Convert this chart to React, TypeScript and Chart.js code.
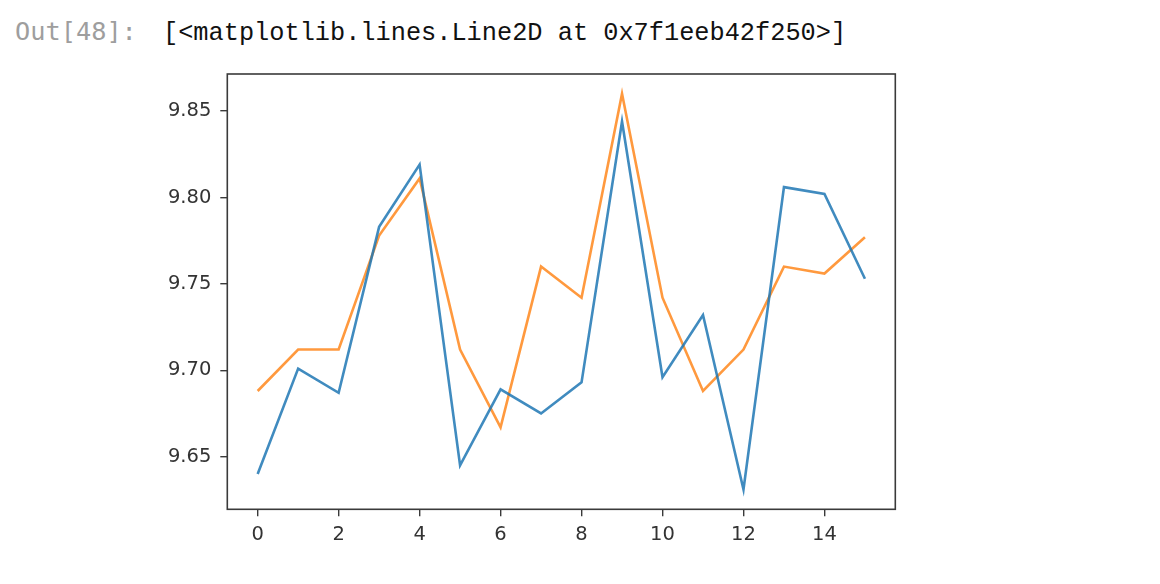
import React, { useEffect, useRef } from "react";
import { Chart, registerables } from "chart.js";

Chart.register(...registerables);

const xValues = [0, 1, 2, 3, 4, 5, 6, 7, 8, 9, 10, 11, 12, 13, 14, 15];
const blueSeries = [9.640, 9.701, 9.687, 9.783, 9.819, 9.645, 9.689, 9.675, 9.693, 9.844, 9.696, 9.732, 9.631, 9.806, 9.802, 9.753];
const orangeSeries = [9.688, 9.712, 9.712, 9.778, 9.811, 9.712, 9.667, 9.760, 9.742, 9.860, 9.742, 9.688, 9.712, 9.760, 9.756, 9.777];
const xTicks = [0, 2, 4, 6, 8, 10, 12, 14];
const yTicks = [9.65, 9.7, 9.75, 9.8, 9.85];

const outPrompt = "Out[48]:";
const outText = "[<matplotlib.lines.Line2D at 0x7f1eeb42f250>]";

function margins(vals: number[]) {
  const lo = Math.min(...vals);
  const hi = Math.max(...vals);
  const m = (hi - lo) * 0.05;
  return [lo - m, hi + m];
}

export default function App() {
  const ref = useRef<HTMLCanvasElement | null>(null);
  useEffect(() => {
    if (!ref.current) return;
    const [xMin, xMax] = margins(xValues);
    const [yMin, yMax] = margins([...blueSeries, ...orangeSeries]);
    const frame = {
      id: "frame",
      afterDatasetsDraw(chart: any) {
        const { ctx, chartArea } = chart;
        ctx.save();
        ctx.strokeStyle = "#3a3a3a";
        ctx.lineWidth = 1.6;
        ctx.strokeRect(chartArea.left, chartArea.top, chartArea.right - chartArea.left, chartArea.bottom - chartArea.top);
        ctx.restore();
      },
    };
    const tickFont = { family: "'DejaVu Sans'", size: 19.5 };
    const chart = new Chart(ref.current, {
      type: "line",
      data: {
        datasets: [
          {
            data: xValues.map((x, i) => ({ x, y: blueSeries[i] })),
            borderColor: "rgba(31,119,180,0.85)",
            borderWidth: 2.6,
            pointRadius: 0,
            tension: 0,
          },
          {
            data: xValues.map((x, i) => ({ x, y: orangeSeries[i] })),
            borderColor: "rgba(255,127,14,0.8)",
            borderWidth: 2.6,
            pointRadius: 0,
            tension: 0,
          },
        ],
      },
      options: {
        animation: false,
        responsive: false,
        devicePixelRatio: 1,
        layout: { padding: { top: 74, right: 264.7, bottom: 0, left: 0 } },
        plugins: { legend: { display: false }, tooltip: { enabled: false }, title: { display: false } },
        scales: {
          x: {
            type: "linear",
            min: xMin,
            max: xMax,
            afterFit: (s: any) => { s.height = 74.7; },
            afterBuildTicks: (s: any) => { s.ticks = xTicks.map((v) => ({ value: v })); },
            grid: { drawOnChartArea: false, drawTicks: true, tickLength: 7, color: "#3a3a3a", lineWidth: 1.4 },
            border: { display: false },
            ticks: { color: "#333", font: tickFont, padding: 7, maxRotation: 0, callback: (v: any) => String(v) },
          },
          y: {
            type: "linear",
            min: yMin,
            max: yMax,
            afterFit: (s: any) => { s.width = 227.3; },
            afterBuildTicks: (s: any) => { s.ticks = yTicks.map((v) => ({ value: v })); },
            grid: { drawOnChartArea: false, drawTicks: true, tickLength: 7, color: "#3a3a3a", lineWidth: 1.4 },
            border: { display: false },
            ticks: { color: "#333", font: tickFont, padding: 9, callback: (v: any) => Number(v).toFixed(2) },
          },
        },
      },
      plugins: [frame],
    });
    return () => chart.destroy();
  }, []);

  return (
    <div style={{ position: "fixed", left: 0, top: 0, width: 1160, height: 584, background: "#fff", overflow: "hidden" }}>
      <div style={{ position: "absolute", left: 15, top: 19, fontFamily: "'DejaVu Sans Mono'", fontSize: 25.3, lineHeight: "25px", color: "#9e9e9e", whiteSpace: "pre" }}>
        {outPrompt}
      </div>
      <div style={{ position: "absolute", left: 163, top: 21, fontFamily: "'Liberation Mono'", fontSize: 25.3, lineHeight: "25px", color: "#111", whiteSpace: "pre" }}>
        {outText}
      </div>
      <canvas ref={ref} width={1160} height={584} style={{ position: "absolute", left: 0, top: 0, width: 1160, height: 584 }} />
    </div>
  );
}
